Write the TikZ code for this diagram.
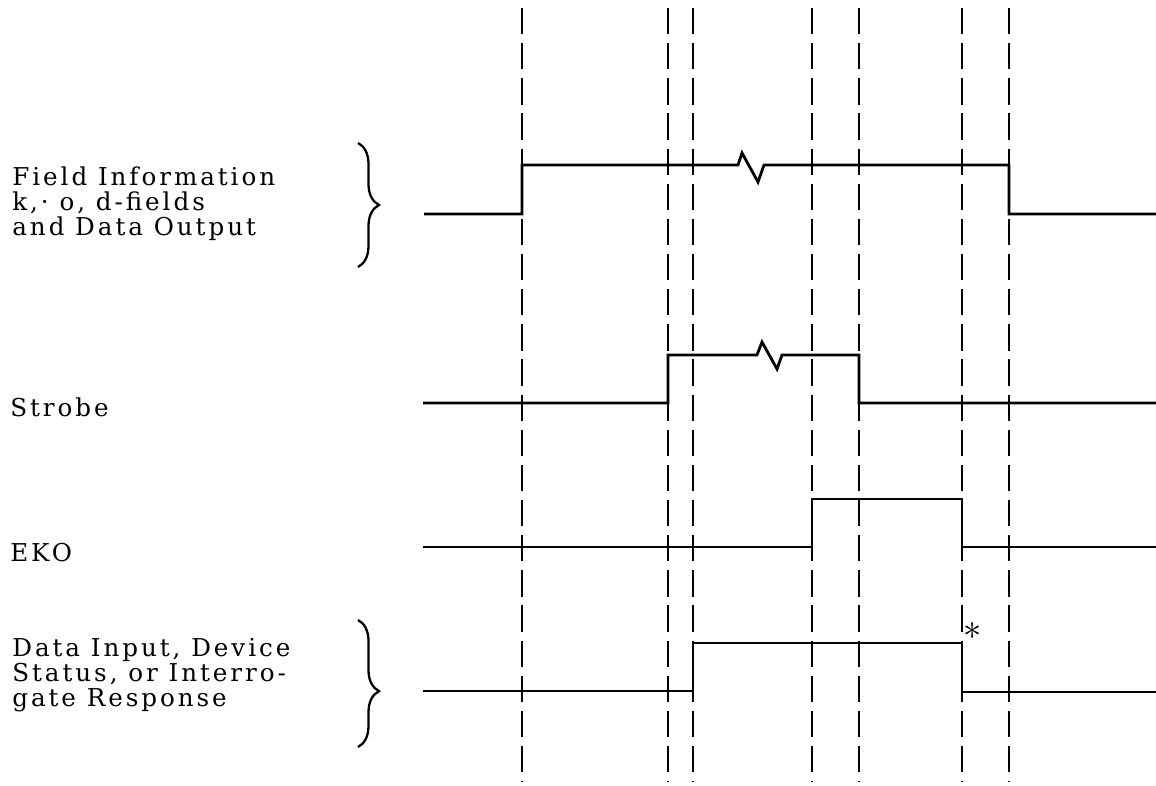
\documentclass[tikz,border=0pt]{standalone}
\usepackage{fontspec}
\setmainfont{DejaVu Serif}[LetterSpace=12]
\usepackage{tikz}
\usetikzlibrary{decorations.pathreplacing, positioning}
\tikzset{
	every node/.style={
		font=\fontsize{14}{16}\selectfont,
		inner sep=0pt
	},
	signal/.style={
		line width=1.6pt,
		line join=miter
	},
	guide/.style={
		line width=1.5pt,
		dash pattern=on 15pt off 5pt
	},
	lbl/.style={
		anchor=base west
	},
	bracket/.style={
		line width=1.3pt,
		decorate,
		decoration={brace, amplitude=0.42cm}
	}
}

\begin{document}
\begin{tikzpicture}[x=0.02cm, y=-0.02cm]
	\useasboundingbox (0,0) rectangle (1156,786);
	
	% Lineas de referencia
	\foreach \t in {522, 668, 693, 812, 859, 962, 1009}
	\draw[guide] (\t,8) -- (\t,782);
	
	% Field Information
	\node[lbl] (f1) at (12,186) {Field Information};
	\node[lbl] (f2) at (12,211) {k,· o, d-fields};
	\node[lbl] (f3) at (12,236) {and Data Output};
	\draw[bracket] (358,143) -- (358,267);
	\draw[signal] (424,214) -- (522,214) -- (522,165) -- (738,165) -- (742,153)
	-- (758,182) -- (764,165) -- (1009,165) -- (1009,214) -- (1156,214);
	
	% Strobe
	\node[lbl] (strobe) at (10,417) {Strobe};
	\draw[signal] (423,403) -- (668,403) -- (668,355) -- (757,355) -- (762,342)
	-- (777,369) -- (782,355) -- (859,355) -- (859,403) -- (1156,403);
	
	% EKO
	\node[lbl] (eko) at (10,562) {EKO};
	\draw[signal] (423,547) -- (812,547) -- (812,499) -- (962,499) -- (962,547)
	-- (1156,547);
	
	% Data Input
	\node[lbl] (d1) at (12,657) {Data Input, Device};
	\node[lbl] (d2) at (12,682) {Status, or Interro-};
	\node[lbl] (d3) at (12,706) {gate Response};
	\draw[bracket, decoration={aspect=0.56}] (358,620) -- (358,747);
	\draw[signal] (423,691) -- (693,691) -- (693,643) -- (962,643) -- (962,692)
	-- (1156,692);
	\node[font=\fontsize{22}{22}\selectfont] (star) at (973,631) {$\ast$};
	
\end{tikzpicture}
\end{document}
